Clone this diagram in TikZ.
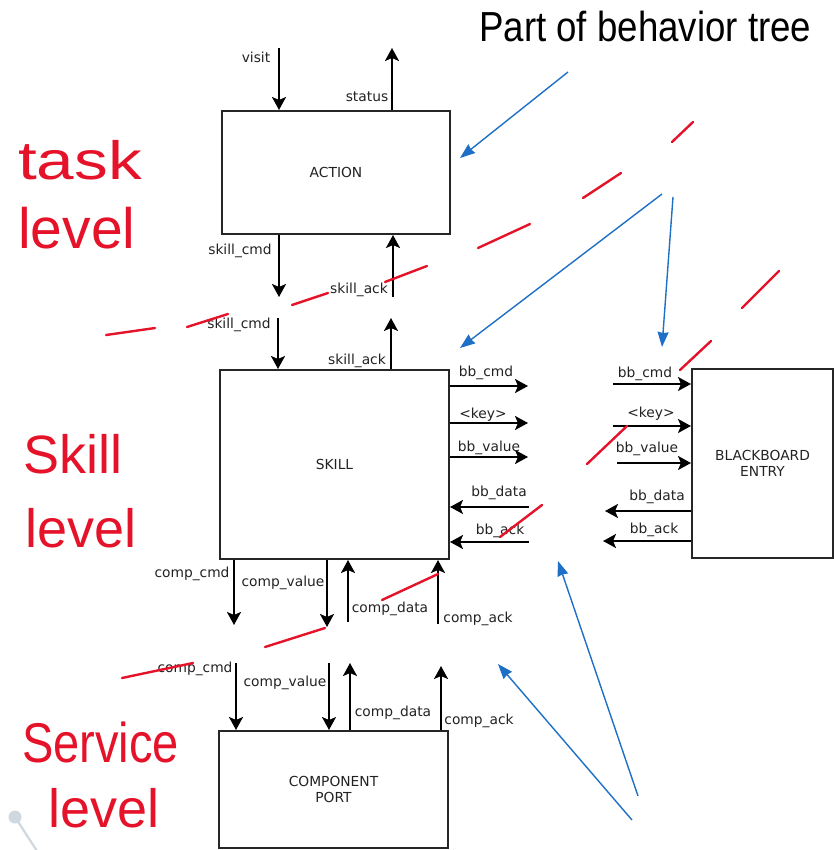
\documentclass[tikz,border=0pt]{standalone}
\usepackage{fontspec}
\usepackage{graphicx}
\setmainfont{DejaVu Sans}
\newfontfamily\titlefont{Liberation Sans}
\newfontfamily\handfont{Liberation Sans}
\usetikzlibrary{arrows.meta}
\definecolor{inkred}{HTML}{E5132A}
\definecolor{inkblue}{HTML}{1E6FC6}
\definecolor{pincol}{HTML}{CFD8DE}
\definecolor{txt}{HTML}{222222}
\begin{document}
\begin{tikzpicture}[x=1pt,y=-1pt,
  box/.style={draw=black!85, line width=2pt, anchor=north west, inner sep=0pt,
    font=\fontsize{13.8}{16.5}\selectfont, text=txt, align=center},
  sig/.style={draw=black, line width=2pt, -{Stealth[length=13pt,width=14pt,inset=3pt]}},
  lbl/.style={font=\fontsize{13.8}{16}\selectfont, text=txt, inner sep=0pt, anchor=base},
  hint/.style={draw=inkblue, line width=1.4pt, -{Stealth[length=15pt,width=11pt,inset=1pt]}},
  redstroke/.style={draw=inkred, line width=2.4pt, line cap=round},
  hand/.style={text=inkred, inner sep=0pt, anchor=base west},
]
\useasboundingbox (0,0) rectangle (833,850);

% boxes
\node[box, minimum width=228pt, minimum height=123pt] (action) at (221,110) {ACTION};
\node[box, minimum width=229pt, minimum height=189pt] (skill) at (219,369) {SKILL};
\node[box, minimum width=141pt, minimum height=189pt] (bb) at (691,368) {BLACKBOARD\\ENTRY};
\node[box, minimum width=229pt, minimum height=117pt] (comp) at (218,730) {COMPONENT\\PORT};

% free ends
\coordinate (visitS) at (279,48);
\coordinate (statusE) at (392,48);
\coordinate (scmdA) at (279,297);
\coordinate (sackA) at (393,297);
\coordinate (scmdB) at (278,318);
\coordinate (sackB) at (391,318);
\coordinate (bbcmdS) at (528,386);
\coordinate (keyS) at (528,423);
\coordinate (bbvalS) at (528,457);
\coordinate (bbdataS) at (529,507);
\coordinate (bbackS) at (529,542);
\coordinate (bbcmdB) at (613,384);
\coordinate (keyB) at (613,426);
\coordinate (bbvalB) at (617,463);
\coordinate (bbdataB) at (605,511);
\coordinate (bbackB) at (603,541);
\coordinate (ccmdA) at (234,625);
\coordinate (cvalA) at (327,627);
\coordinate (cdataA) at (348,622);
\coordinate (cackA) at (438,624);
\coordinate (ccmdB) at (236,663);
\coordinate (cvalB) at (329,663);
\coordinate (cdataB) at (350,663);
\coordinate (cackB) at (441,666);

% signals
\draw[sig] (visitS) -- (visitS |- action.north);
\draw[sig] (statusE |- action.north) -- (statusE);
\draw[sig] (scmdA |- action.south) -- (scmdA);
\draw[sig] (sackA) -- (sackA |- action.south);
\draw[sig] (scmdB) -- (scmdB |- skill.north);
\draw[sig] (sackB |- skill.north) -- (sackB);
\draw[sig] (bbcmdS -| skill.east) -- (bbcmdS);
\draw[sig] (keyS -| skill.east) -- (keyS);
\draw[sig] (bbvalS -| skill.east) -- (bbvalS);
\draw[sig] (bbdataS) -- (bbdataS -| skill.east);
\draw[sig] (bbackS) -- (bbackS -| skill.east);
\draw[sig] (bbcmdB) -- (bbcmdB -| bb.west);
\draw[sig] (keyB) -- (keyB -| bb.west);
\draw[sig] (bbvalB) -- (bbvalB -| bb.west);
\draw[sig] (bbdataB -| bb.west) -- (bbdataB);
\draw[sig] (bbackB -| bb.west) -- (bbackB);
\draw[sig] (ccmdA |- skill.south) -- (ccmdA);
\draw[sig] (cvalA |- skill.south) -- (cvalA);
\draw[sig] (cdataA) -- (cdataA |- skill.south);
\draw[sig] (cackA) -- (cackA |- skill.south);
\draw[sig] (ccmdB) -- (ccmdB |- comp.north);
\draw[sig] (cvalB) -- (cvalB |- comp.north);
\draw[sig] (cdataB |- comp.north) -- (cdataB);
\draw[sig] (cackB |- comp.north) -- (cackB);

% labels
\node[lbl] (l1) at (256,63) {visit};
\node[lbl] (l2) at (367,102) {status};
\node[lbl] (l3) at (240,254) {skill\_cmd};
\node[lbl] (l4) at (359,293) {skill\_ack};
\node[lbl] (l5) at (239,328) {skill\_cmd};
\node[lbl] (l6) at (357,364) {skill\_ack};
\node[lbl] (l7) at (486,376) {bb\_cmd};
\node[lbl] (l8) at (483,418) {<key>};
\node[lbl] (l9) at (489,451) {bb\_value};
\node[lbl] (l10) at (499,496) {bb\_data};
\node[lbl] (l11) at (500,534) {bb\_ack};
\node[lbl] (l12) at (645,377) {bb\_cmd};
\node[lbl] (l13) at (651,417) {<key>};
\node[lbl] (l14) at (647,452) {bb\_value};
\node[lbl] (l15) at (657,500) {bb\_data};
\node[lbl] (l16) at (654,533) {bb\_ack};
\node[lbl] (l17) at (192,577) {comp\_cmd};
\node[lbl] (l18) at (283,586) {comp\_value};
\node[lbl] (l19) at (390,612) {comp\_data};
\node[lbl] (l20) at (478,622) {comp\_ack};
\node[lbl] (l21) at (195,672) {comp\_cmd};
\node[lbl] (l22) at (285,686) {comp\_value};
\node[lbl] (l23) at (393,716) {comp\_data};
\node[lbl] (l24) at (479,724) {comp\_ack};

% title
\node[anchor=base west, inner sep=0pt, font=\titlefont\fontsize{42}{44}\selectfont] (title) at (479,42)
  {\scalebox{0.873}[1]{Part of behavior tree}};

% blue pointers
\coordinate (b1s) at (568,72);  \coordinate (b1e) at (460,158);
\coordinate (b2s) at (662,194); \coordinate (b2e) at (460,348);
\coordinate (b3s) at (673,197); \coordinate (b3e) at (662,347);
\coordinate (b4s) at (638,796); \coordinate (b4e) at (558,561);
\coordinate (b5s) at (632,820); \coordinate (b5e) at (498,664);
\draw[hint] (b1s) -- (b1e);
\draw[hint] (b2s) -- (b2e);
\draw[hint] (b3s) -- (b3e);
\draw[hint] (b4s) -- (b4e);
\draw[hint] (b5s) -- (b5e);

% red level separators
\draw[redstroke] (106,335) -- (155,328);
\draw[redstroke] (187,327) -- (228,314);
\draw[redstroke] (292,305) -- (328,293);
\draw[redstroke] (385,282) -- (427,266);
\draw[redstroke] (478,248) -- (530,224);
\draw[redstroke] (583,198) -- (621,173);
\draw[redstroke] (672,142) -- (693,122);
\draw[redstroke] (122,678) -- (193,663);
\draw[redstroke] (265,647) -- (325,628);
\draw[redstroke] (382,600) -- (438,574);
\draw[redstroke] (500,537) -- (542,505);
\draw[redstroke] (587,464) -- (627,426);
\draw[redstroke] (680,370) -- (711,341);
\draw[redstroke] (742,308) -- (779,271);

% red handwriting
\node[hand, font=\handfont\fontsize{54}{56}\selectfont] (t1) at (18,180) {\scalebox{1.25}[1]{task}};
\node[hand, font=\handfont\fontsize{57}{60}\selectfont] (t2) at (18,248) {level};
\node[hand, font=\handfont\fontsize{54}{56}\selectfont] (t3) at (23,473) {Skill};
\node[hand, font=\handfont\fontsize{54}{56}\selectfont] (t4) at (25,547) {level};
\node[hand, font=\handfont\fontsize{56}{58}\selectfont] (t5) at (22,762) {\scalebox{0.84}[1]{Service}};
\node[hand, font=\handfont\fontsize{54}{56}\selectfont] (t6) at (48,827) {level};

% grey pin
\draw[pincol, line width=2.2pt] (15,817) -- (37,851);
\fill[pincol] (15,817) circle (6.5);
\end{tikzpicture}
\end{document}
